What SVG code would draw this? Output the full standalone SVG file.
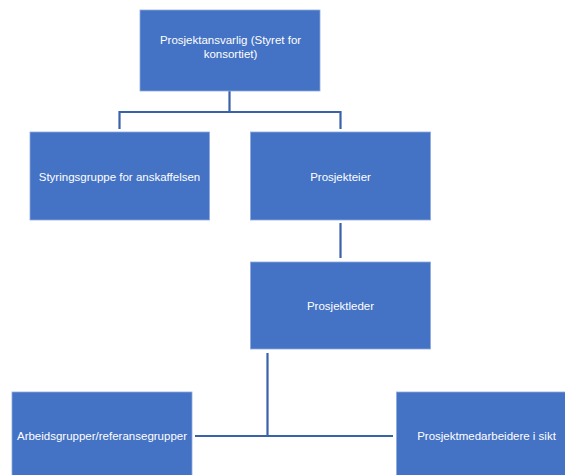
<svg xmlns="http://www.w3.org/2000/svg" width="565" height="475" viewBox="0 0 565 475">
<style>
.box{fill:#4472C4;stroke:#8FAADC;stroke-width:0.8}
.lbl{font-family:"Liberation Sans",Arial,sans-serif;font-size:11.5px;fill:#FFFFFF;text-anchor:middle}
.conn{fill:none;stroke:#3A62A8;stroke-width:2.2}
</style>
<rect width="565" height="475" fill="#FFFFFF"/>
<g id="connectors">
<path class="conn" d="M229.5,91 V112"/>
<path class="conn" d="M119.5,129 V112 H340.5 V129"/>
<path class="conn" d="M340.5,223 V258"/>
<path class="conn" d="M267.5,353 V436"/>
<path class="conn" d="M195,436 H393"/>
</g>
<g id="n1">
<rect class="box" x="140" y="10" width="180" height="81"/>
<text class="lbl" x="230.5" y="44">Prosjektansvarlig (Styret for</text>
<text class="lbl" x="230.5" y="57.5">konsortiet)</text>
</g>
<g id="n2">
<rect class="box" x="30" y="132" width="179.5" height="88"/>
<text class="lbl" x="119.5" y="180.5">Styringsgruppe for anskaffelsen</text>
</g>
<g id="n3">
<rect class="box" x="250.5" y="132" width="180" height="88"/>
<text class="lbl" x="340.5" y="180.5">Prosjekteier</text>
</g>
<g id="n4">
<rect class="box" x="250.5" y="262" width="180" height="87"/>
<text class="lbl" x="340.5" y="310">Prosjektleder</text>
</g>
<g id="n5">
<rect class="box" x="12" y="392" width="180" height="90"/>
<text class="lbl" x="102" y="439.5">Arbeidsgrupper/referansegrupper</text>
</g>
<g id="n6">
<rect class="box" x="396.5" y="392" width="180" height="90"/>
<text class="lbl" x="486.5" y="439.5">Prosjektmedarbeidere i sikt</text>
</g>
</svg>
